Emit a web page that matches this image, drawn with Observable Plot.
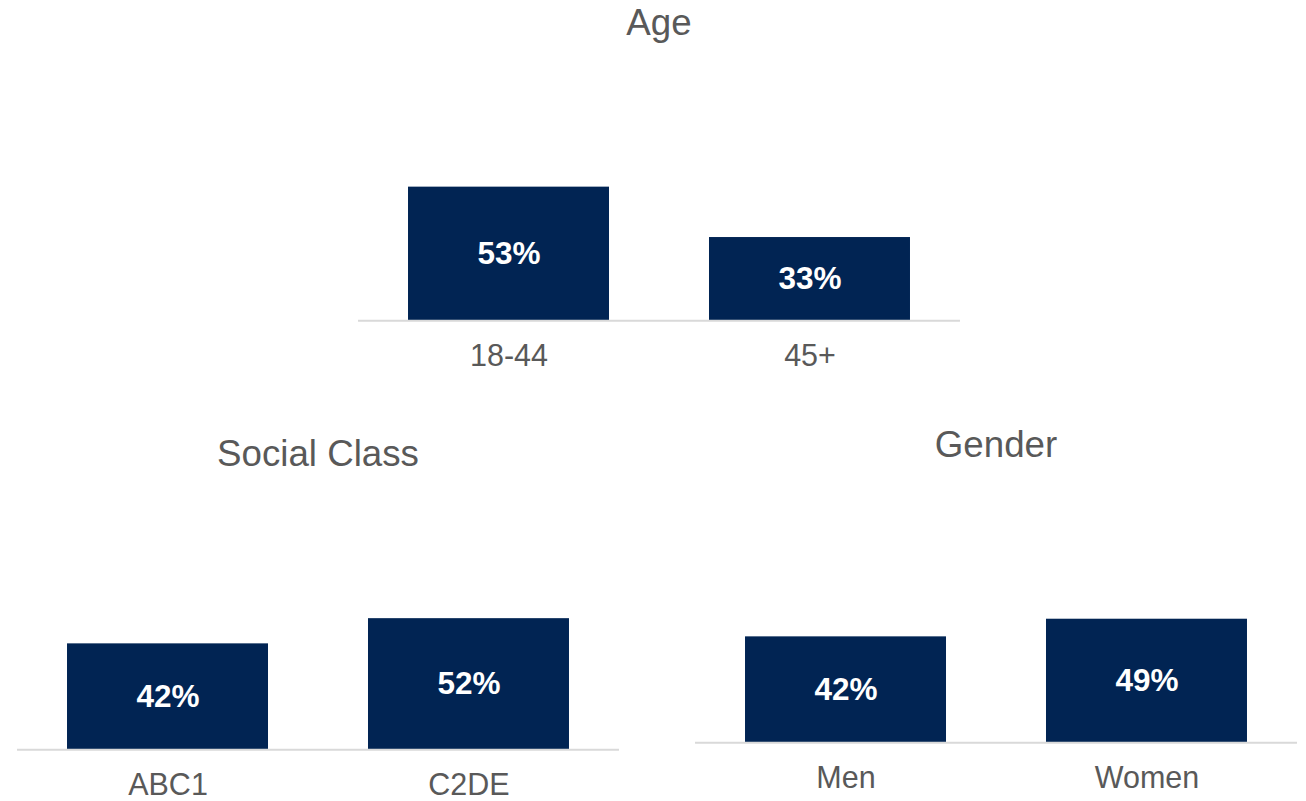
<!DOCTYPE html>
<html>
<head>
<meta charset="utf-8">
<script src="https://cdn.jsdelivr.net/npm/d3@7"></script>
<script src="https://cdn.jsdelivr.net/npm/@observablehq/plot@0.6"></script>
<style>
  html, body { margin: 0; padding: 0; background: #ffffff; }
  #root { position: relative; width: 1306px; height: 801px; overflow: hidden; font-family: "Liberation Sans", Arial, sans-serif; }
  .title { position: absolute; text-align: center; font-size: 36.7px; line-height: 36.7px; color: #595959; white-space: nowrap; }
  .chart { position: absolute; }
</style>
</head>
<body>
<div id="root"></div>
<script>
// ---- data ----
const ageTitle = "Age";
const ageCategories = ["18-44", "45+"];
const ageValues = [53, 33];

const classTitle = "Social Class";
const classCategories = ["ABC1", "C2DE"];
const classValues = [42, 52];

const genderTitle = "Gender";
const genderCategories = ["Men", "Women"];
const genderValues = [42, 49];

// ---- layout ----
const NAVY = "#012453";
const GREY = "#595959";
const PX_PER_PCT = 2.52;
const Y_MAX = 60;
const CHART_W = 602;
const FONT = "'Liberation Sans', Arial, sans-serif";

const root = document.getElementById("root");

function drawChart(title, categories, values, left, baselineY, titleBaselineY) {
  const data = categories.map((c, i) => ({category: c, value: values[i]}));
  const plotH = Y_MAX * PX_PER_PCT;
  const marginBottom = 50;

  const t = document.createElement("div");
  t.className = "title";
  t.textContent = title;
  t.style.left = left + "px";
  t.style.width = CHART_W + "px";
  t.style.top = (titleBaselineY - 0.8465 * 36.7) + "px";
  root.appendChild(t);

  const svg = Plot.plot({
    width: CHART_W,
    height: plotH + marginBottom,
    marginTop: 0,
    marginBottom: marginBottom,
    marginLeft: 0,
    marginRight: 0,
    style: {fontFamily: FONT, background: "transparent", overflow: "visible"},
    x: {type: "band", domain: categories, paddingInner: 1/3, paddingOuter: 1/6, axis: null},
    y: {domain: [0, Y_MAX], axis: null},
    marks: [
      Plot.barY(data, {x: "category", y: "value", fill: NAVY}),
      Plot.ruleY([0], {stroke: "#d9d9d9", strokeWidth: 2}),
      Plot.text(data, {
        x: "category",
        y: d => d.value / 2,
        text: d => d.value + "%",
        fill: "#ffffff",
        fontSize: 31.5,
        fontWeight: "bold",
        lineAnchor: "middle"
      }),
      Plot.text(data, {
        x: "category",
        y: () => 0,
        text: "category",
        fill: GREY,
        fontSize: 30.5,
        lineAnchor: "bottom",
        dy: 45
      })
    ]
  });
  const wrap = document.createElement("div");
  wrap.className = "chart";
  wrap.style.left = left + "px";
  wrap.style.top = (baselineY - plotH) + "px";
  wrap.appendChild(svg);
  root.appendChild(wrap);
}

drawChart(ageTitle, ageCategories, ageValues, 358, 320, 36);
drawChart(classTitle, classCategories, classValues, 17, 749.5, 467);
drawChart(genderTitle, genderCategories, genderValues, 695, 742, 458);
</script>
</body>
</html>
